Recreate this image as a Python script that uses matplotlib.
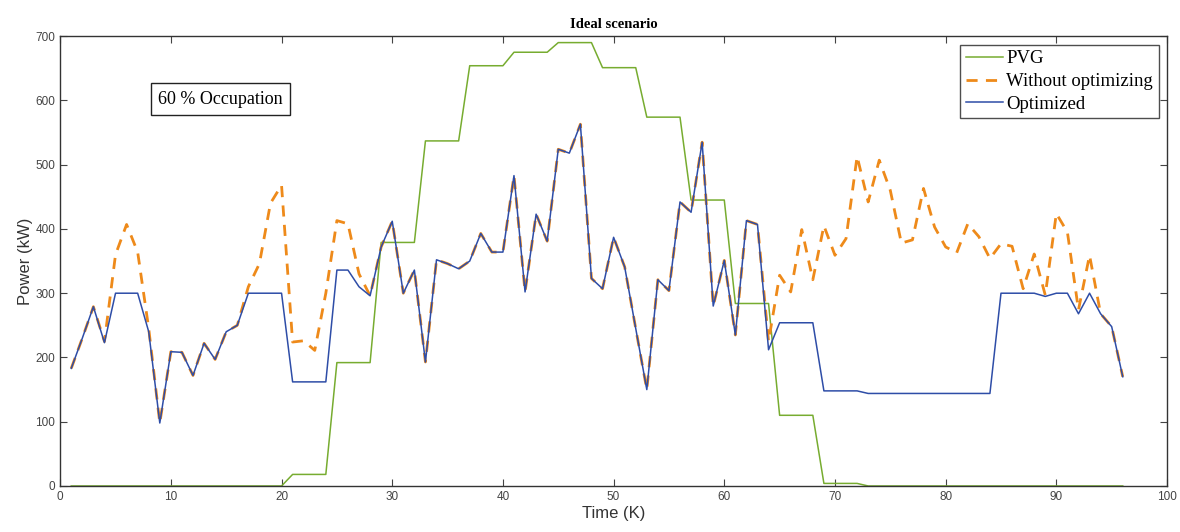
import matplotlib
matplotlib.use("Agg")
import matplotlib.pyplot as plt
import numpy as np

# ------------------------------------------------------------------
# Data (time steps K = 1..96)
# ------------------------------------------------------------------
time_k = list(range(1, 97))

pvg = [0, 0, 0, 0, 0, 0, 0, 0, 0, 0,
       0, 0, 0, 0, 0, 0, 0, 0, 0, 0,
       18, 18, 18, 18, 192, 192, 192, 192, 379, 379,
       379, 379, 537, 537, 537, 537, 654, 654, 654, 654,
       675, 675, 675, 675, 690, 690, 690, 690, 651, 651,
       651, 651, 574, 574, 574, 574, 445, 445, 445, 445,
       284, 284, 284, 284, 110, 110, 110, 110, 4, 4,
       4, 4, 0, 0, 0, 0, 0, 0, 0, 0,
       0, 0, 0, 0, 0, 0, 0, 0, 0, 0,
       0, 0, 0, 0, 0, 0]

without_opt = [183, 230, 279, 225, 360, 407, 364, 245, 98, 209,
               208, 172, 222, 197, 240, 250, 310, 346, 440, 468,
               224, 226, 211, 300, 413, 408, 330, 296, 372, 412,
               300, 336, 193, 352, 346, 338, 350, 393, 364, 364,
               483, 302, 423, 381, 524, 518, 563, 323, 307, 387,
               341, 245, 150, 321, 304, 442, 426, 535, 280, 351,
               235, 413, 407, 225, 328, 302, 399, 321, 405, 359,
               385, 513, 442, 507, 460, 378, 383, 463, 403, 372,
               363, 408, 388, 354, 377, 373, 307, 361, 297, 424,
               395, 274, 359, 268, 248, 170]

optimized = [183, 230, 279, 223, 300, 300, 300, 240, 98, 209,
             208, 172, 222, 197, 240, 250, 300, 300, 300, 300,
             162, 162, 162, 162, 336, 336, 310, 296, 372, 412,
             300, 336, 193, 352, 346, 338, 350, 393, 364, 364,
             483, 302, 423, 381, 524, 518, 563, 323, 307, 387,
             341, 245, 150, 321, 304, 442, 426, 535, 280, 351,
             235, 413, 407, 212, 254, 254, 254, 254, 148, 148,
             148, 148, 144, 144, 144, 144, 144, 144, 144, 144,
             144, 144, 144, 144, 300, 300, 300, 300, 295, 300,
             300, 268, 300, 268, 248, 170]

# ------------------------------------------------------------------
# Plot
# ------------------------------------------------------------------
SERIF = ['Liberation Serif', 'DejaVu Serif']
NARROW = ['Liberation Sans Narrow', 'Liberation Sans', 'DejaVu Sans']

fig = plt.figure(figsize=(11.8, 5.32), dpi=100)
ax = fig.add_axes([0.051, 0.0865, 0.938, 0.8455])

ax.plot(time_k, pvg, color='#77AC30', lw=1.1, label='PVG')
ax.plot(time_k, without_opt, color='#EE8A1A', lw=2.0, ls=(0, (4, 3)),
        label='Without optimizing')
ax.plot(time_k, optimized, color='#2E4DA7', lw=1.1, label='Optimized')

ax.set_xlim(0, 100)
ax.set_ylim(0, 700)
ax.set_xticks(np.arange(0, 101, 10))
ax.set_yticks(np.arange(0, 701, 100))
ax.tick_params(direction='in', top=True, right=True, length=5, width=0.8,
               labelsize=8.5, colors='#444444')
for lab in ax.get_xticklabels() + ax.get_yticklabels():
    lab.set_family(NARROW)

for sp in ax.spines.values():
    sp.set_color('#333333')
    sp.set_linewidth(1.0)

ax.set_xlabel('Time (K)', fontsize=12, family=NARROW, color='#333333', labelpad=2)
ax.set_ylabel('Power (kW)', fontsize=12, family=NARROW, color='#333333', labelpad=2)
ax.set_title('Ideal scenario', fontsize=10.5, fontweight='bold', family=SERIF, pad=6)

leg = ax.legend(loc='upper right', prop={'family': SERIF, 'size': 13.5},
                frameon=True, fancybox=False, borderaxespad=0.45,
                handlelength=2.0, handletextpad=0.15, labelspacing=0.3,
                borderpad=0.3)
leg.get_frame().set_edgecolor('#222222')
leg.get_frame().set_linewidth(1.0)

ax.text(14.5, 602, '60 % Occupation', fontsize=13, family=SERIF,
        ha='center', va='center',
        bbox=dict(boxstyle='square,pad=0.4', facecolor='white', edgecolor='#222222', lw=1.0))

fig.savefig('out.png', dpi=100)
